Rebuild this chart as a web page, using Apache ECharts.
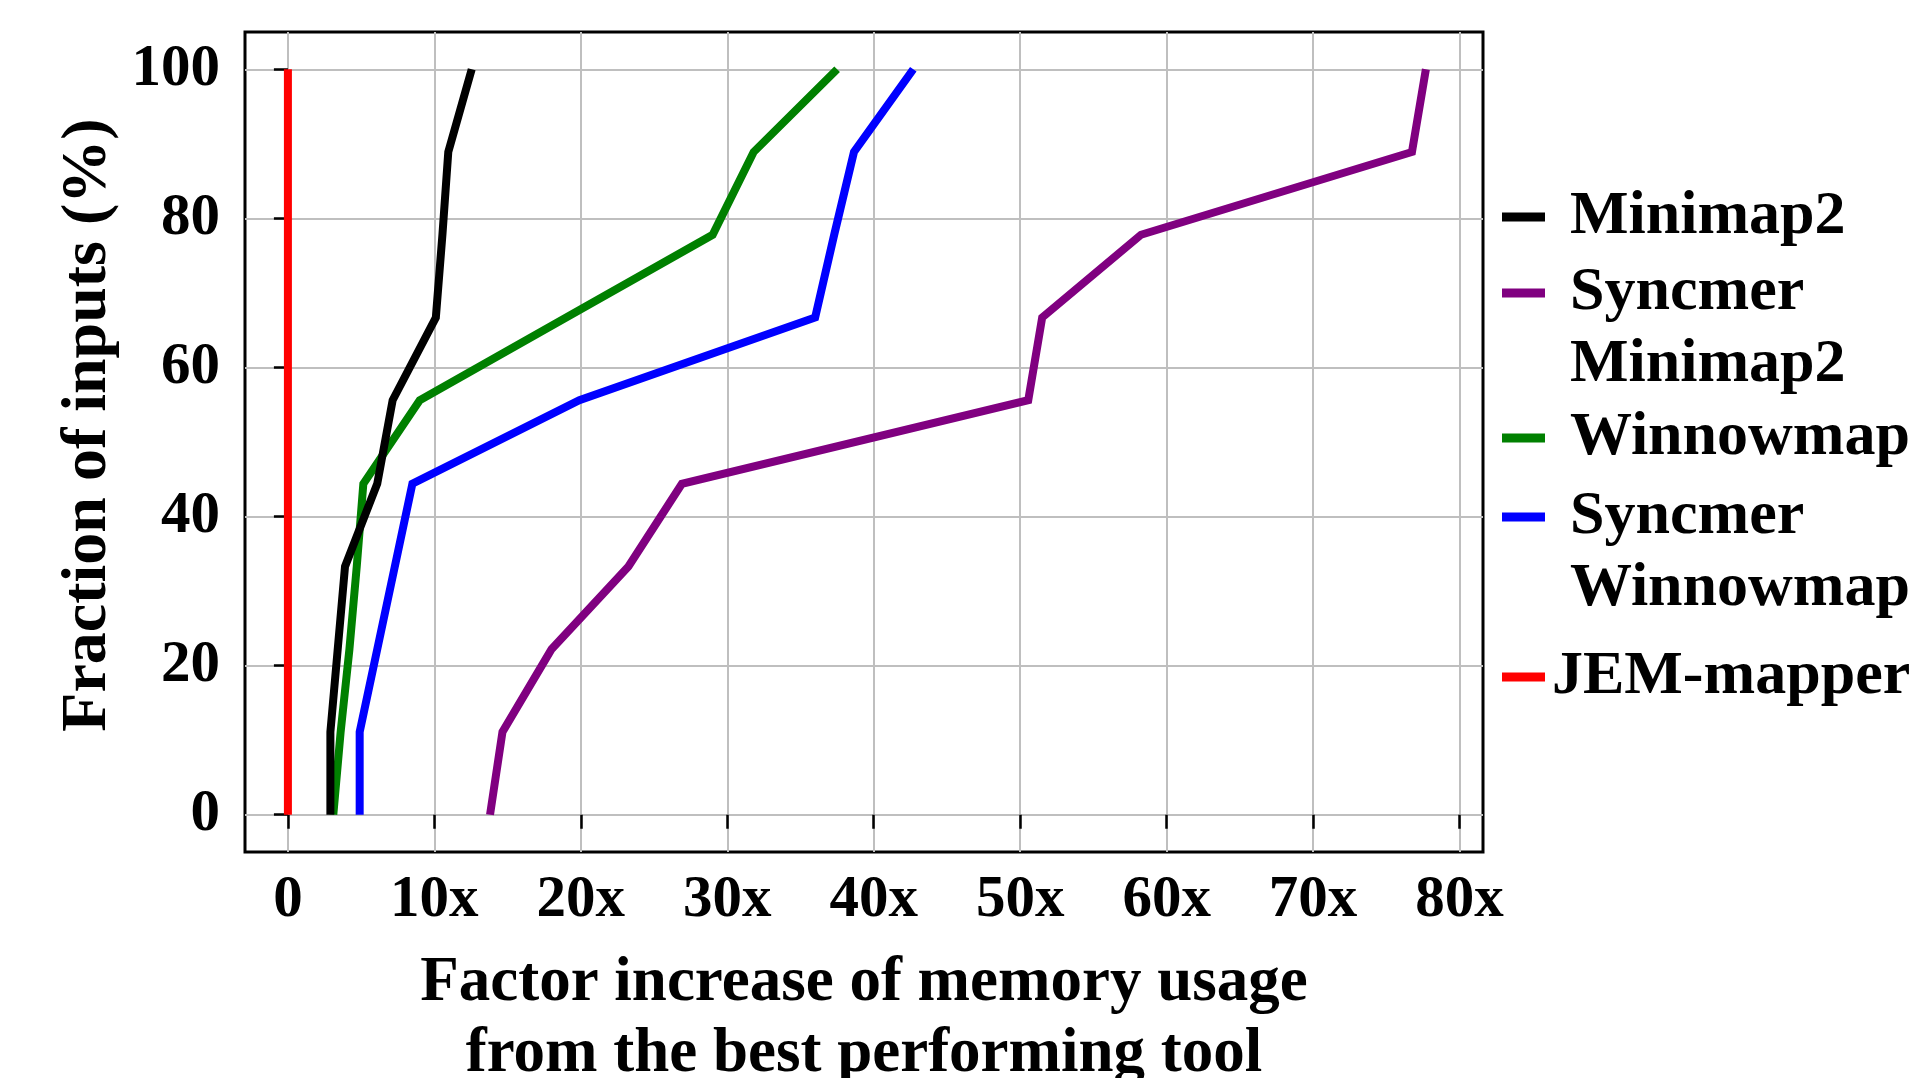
<!DOCTYPE html>
<html>
<head>
<meta charset="utf-8">
<script src="https://cdn.jsdelivr.net/npm/echarts@6/dist/echarts.min.js"></script>
<style>
  html, body { margin: 0; padding: 0; background: #ffffff; }
  #chart { width: 1919px; height: 1078px; }
</style>
</head>
<body>
<div id="chart"></div>
<script>
// Cumulative fraction of inputs (%) at each step of the distribution
const fractions = [0, 11.1, 22.2, 33.3, 44.4, 55.6, 66.7, 77.8, 88.9, 100];

// Factor increase of memory usage relative to the best tool, per mapper
const minimap2         = [2.9, 2.9, 3.4, 3.9, 6.1, 7.15, 10.1, 10.55, 10.95, 12.55];
const syncmerMinimap2  = [13.8, 14.65, 18.0, 23.25, 26.9, 50.55, 51.5, 58.25, 76.75, 77.7];
const winnowmap        = [3.1, 3.6, 4.2, 4.7, 5.15, 9.0, 19.0, 29.0, 31.8, 37.5];
const syncmerWinnowmap = [4.9, 4.9, 6.1, 7.3, 8.5, 19.9, 36.0, 37.3, 38.65, 42.7];
const jemMapper        = [0, 0, 0, 0, 0, 0, 0, 0, 0, 0];

// Tick values
const xTicks = [0, 10, 20, 30, 40, 50, 60, 70, 80];
const yTicks = [0, 20, 40, 60, 80, 100];

const FONT = 'Liberation Serif';

const tools = [
  { name: 'Minimap2',          values: minimap2,         color: '#000000' },
  { name: 'Syncmer Minimap2',  values: syncmerMinimap2,  color: '#800080' },
  { name: 'Winnowmap',         values: winnowmap,        color: '#008000' },
  { name: 'Syncmer Winnowmap', values: syncmerWinnowmap, color: '#0000ff' },
  { name: 'JEM-mapper',        values: jemMapper,        color: '#ff0000' }
];

// Drawing order: black sits above green where they cross
const drawOrder = ['JEM-mapper', 'Syncmer Minimap2', 'Syncmer Winnowmap', 'Winnowmap', 'Minimap2'];

const series = drawOrder.map(function (n) {
  const t = tools.find(function (d) { return d.name === n; });
  return {
    name: t.name,
    type: 'line',
    showSymbol: false,
    symbol: 'none',
    animation: false,
    data: t.values.map(function (v, i) { return [v, fractions[i]]; }),
    itemStyle: { color: t.color },
    lineStyle: { color: t.color, width: 8, cap: 'butt', join: 'miter' }
  };
});

// One legend block per entry so the swatch lines up with the first text line.
// Two-word names wrap; a leading blank line keeps the swatch beside the first word.
const legendTops = { 'Minimap2': 181, 'Syncmer Minimap2': 185, 'Winnowmap': 402, 'Syncmer Winnowmap': 409, 'JEM-mapper': 641 };
const legends = tools.map(function (t) {
  const padLeft = t.name === 'JEM-mapper' ? 2 : 20;
  return {
    data: [t.name],
    left: 1502,
    top: legendTops[t.name],
    orient: 'vertical',
    padding: 0,
    icon: 'rect',
    itemWidth: 43,
    itemHeight: 9,
    selectedMode: false,
    formatter: function (name) {
      return name.indexOf(' ') >= 0 ? '\n' + name.replace(' ', '\n') : name;
    },
    textStyle: {
      fontFamily: FONT,
      fontWeight: 'bold',
      fontSize: 62,
      color: '#000000',
      lineHeight: 72,
      padding: [0, 0, 0, padLeft]
    }
  };
});

const chart = echarts.init(document.getElementById('chart'), null, { renderer: 'canvas' });
chart.setOption({
  backgroundColor: '#ffffff',
  animation: false,
  grid: {
    left: 245, top: 32, width: 1238, height: 820,
    show: true, borderColor: '#000000', borderWidth: 3, backgroundColor: 'transparent',
    containLabel: false,
    outerBoundsMode: 'none'
  },
  legend: legends,
  xAxis: {
    type: 'value',
    min: -2.93,
    max: 81.6,
    name: 'Factor increase of memory usage\nfrom the best performing tool',
    nameLocation: 'middle',
    nameGap: 96,
    nameTextStyle: { fontFamily: FONT, fontWeight: 'bold', fontSize: 63, lineHeight: 71, color: '#000000' },
    axisLine: { show: false },
    axisTick: { show: true, length: 14, customValues: xTicks, lineStyle: { color: '#000000', width: 2.5 } },
    axisLabel: {
      customValues: xTicks,
      margin: 19,
      fontFamily: FONT, fontWeight: 'bold', fontSize: 59, color: '#000000',
      formatter: function (v) { return v === 0 ? '0' : v + 'x'; }
    },
    splitLine: { show: true, lineStyle: { color: '#bfbfbf', width: 2 } }
  },
  yAxis: {
    type: 'value',
    min: -5,
    max: 105,
    name: 'Fraction of inputs (%)',
    nameLocation: 'middle',
    nameRotate: 90,
    nameGap: 114,
    nameTextStyle: { fontFamily: FONT, fontWeight: 'bold', fontSize: 64, color: '#000000', padding: [0, 0, 0, 34] },
    axisLine: { show: false },
    axisTick: { show: true, length: 14, customValues: yTicks, lineStyle: { color: '#000000', width: 2.5 } },
    axisLabel: {
      customValues: yTicks,
      margin: 25,
      fontFamily: FONT, fontWeight: 'bold', fontSize: 59, color: '#000000'
    },
    splitLine: { show: true, lineStyle: { color: '#bfbfbf', width: 2 } }
  },
  series: series
});
</script>
</body>
</html>
